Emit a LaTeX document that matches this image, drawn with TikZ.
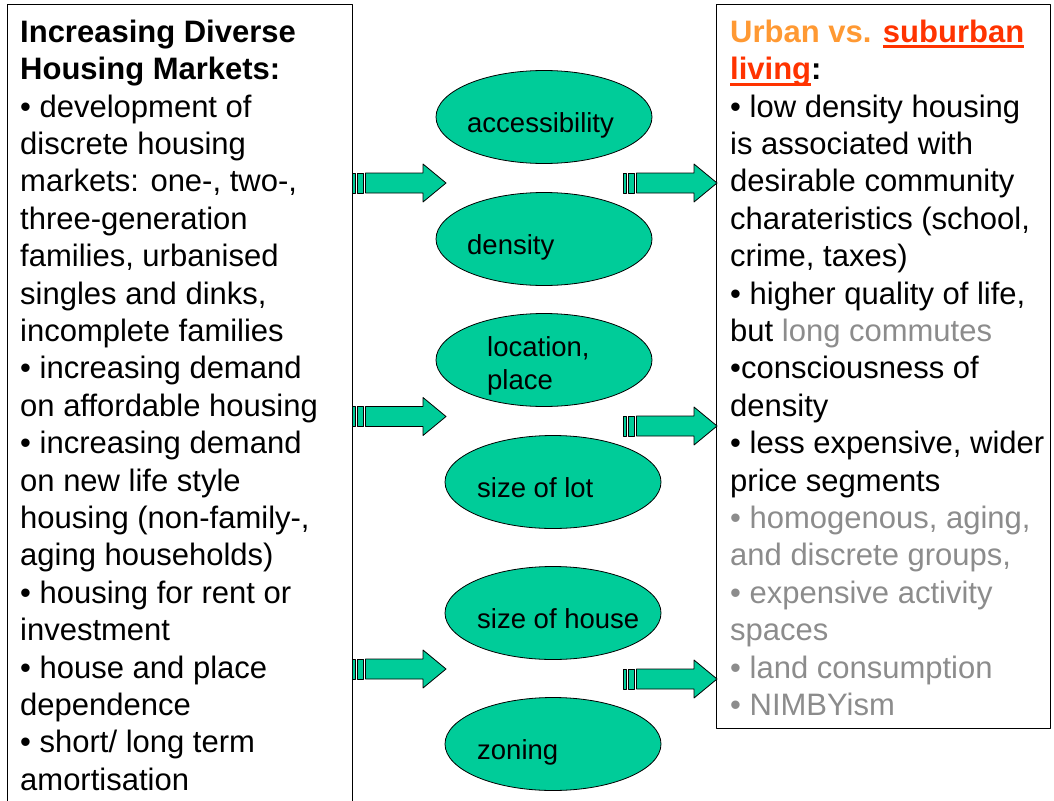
\documentclass[tikz,border=0pt]{standalone}
\usepackage{fontspec}
\setmainfont{Liberation Sans}
\usetikzlibrary{shapes.geometric}
\definecolor{ovalgreen}{RGB}{0,204,153}
\definecolor{urbanor}{RGB}{255,153,51}
\definecolor{suburbred}{RGB}{255,51,0}
\definecolor{faded}{RGB}{140,140,140}
% thick underline at a fixed depth
\newcommand{\ulred}[1]{\sbox0{#1}\rlap{\rule[-6pt]{\wd0}{3pt}}\box0}
% striped block arrow, starting at #1
\newcommand{\sarrow}[1]{%
	\begin{scope}[shift={(#1)}]
		\filldraw[arr] (0,-10) rectangle (3,10);
		\filldraw[arr] (5.5,-10) rectangle (11.5,10);
		\filldraw[arr] (13.5,-10)--(71,-10)--(71,-19)--(94,0)--(71,19)--(71,10)--(13.5,10)--cycle;
	\end{scope}}
\begin{document}
\begin{tikzpicture}[x=1pt, y=-1pt, line join=round,
		arr/.style={draw=black, fill=ovalgreen, line width=.8pt},
		bubble/.style={ellipse, draw, fill=ovalgreen, line width=.8pt, minimum width=216pt, minimum height=93pt, inner sep=0pt},
		blabel/.style={inner sep=0pt, font=\fontsize{27.5}{33}\selectfont},
		body/.style={inner sep=0pt, align=left, font=\fontsize{31}{37.4}\selectfont}]
	\clip (0,0) rectangle (1054,800);
	%\draw[gray!30] (0,0) grid[step=50] (1054,800);
	% text boxes
	\draw[line width=1pt] (7,812) rectangle (352,5);
	\draw[line width=1pt] (716,5) rectangle (1050,728);
	\node[body, anchor=north west] (markets) at (20,19.6) {%
		{\bfseries Increasing Diverse}\\
		{\bfseries Housing Markets:}\\
		• development of\\
		discrete housing\\
		markets: one-, two-,\\
		three-generation\\
		families, urbanised\\
		singles and dinks,\\
		incomplete families\\
		• increasing demand\\
		on affordable housing\\
		• increasing demand\\
		on new life style\\
		housing (non-family-,\\
		aging households)\\
		• housing for rent or\\
		investment\\
		• house and place\\
		dependence\\
		• short/ long term\\
		amortisation};
	\node[body, anchor=north west] (living) at (730,19.6) {%
		{\bfseries\textcolor{urbanor}{Urban vs.} \textcolor{suburbred}{\ulred{suburban}}}\\
		{\bfseries\textcolor{suburbred}{\ulred{living}}:}\\
		• low density housing\\
		is associated with\\
		desirable community\\
		charateristics (school,\\
		crime, taxes)\\
		• higher quality of life,\\
		but \textcolor{faded}{long commutes}\\
		•consciousness of\\
		density\\
		• less expensive, wider\\
		price segments\\
		\textcolor{faded}{• homogenous, aging,}\\
		\textcolor{faded}{and discrete groups,}\\
		\textcolor{faded}{• expensive activity}\\
		\textcolor{faded}{spaces}\\
		\textcolor{faded}{• land consumption}\\
		\textcolor{faded}{• NIMBYism}};
	% factors
	\foreach \n/\x/\y in {acc/544/117, den/544/239, loc/544/360, lot/553/482, hou/553/613, zon/553/744}
		\node[bubble] (\n) at (\x,\y) {};
	\foreach \n/\dx/\t in {acc/-77/accessibility, den/-77/density, lot/-76/size of lot, hou/-76/size of house, zon/-76/zoning}
		\node[blabel, anchor=base west] at ([xshift=\dx pt, yshift=-15pt]\n.center) {\t};
	\node[blabel, align=left, anchor=north west] (locl) at ([xshift=-57pt, yshift=24pt]loc.center) {location,\\place};
	% arrows
	\foreach \n/\x/\y in {l1/352/183, l2/352/416.5, l3/352/669, r1/623/183, r2/623/426, r3/623/679}{
		\coordinate (\n) at (\x,\y);
		\sarrow{\n}
	}
\end{tikzpicture}
\end{document}
